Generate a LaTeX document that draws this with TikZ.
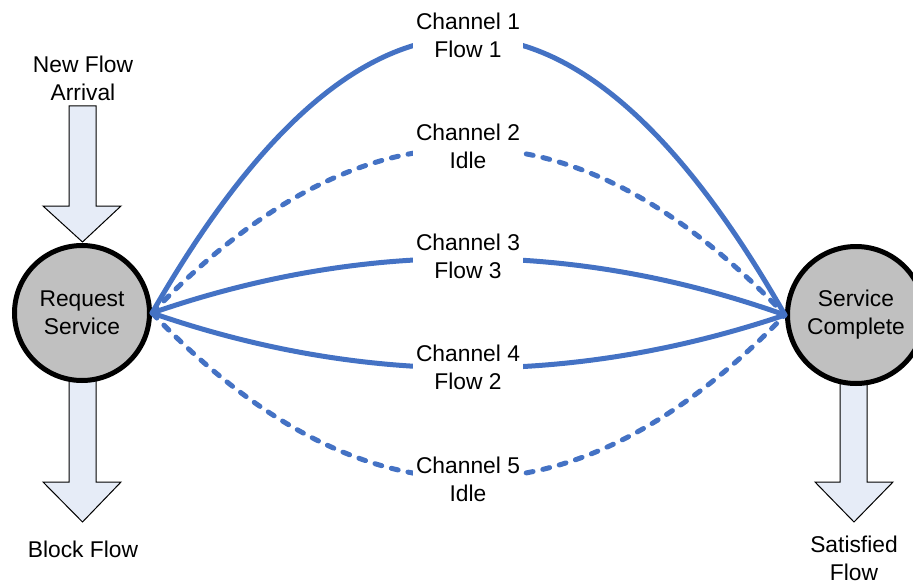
\documentclass[tikz,border=0pt]{standalone}
\usepackage{fontspec}
\setmainfont{Liberation Sans}
\definecolor{stategray}{RGB}{192,192,192}
\definecolor{arrowfill}{HTML}{E6ECF7}
\definecolor{chanblue}{HTML}{4472C4}
\begin{document}
\begin{tikzpicture}[x=1pt,y=-1pt,
  every node/.style={font=\fontsize{22.8}{28}\selectfont, align=center},
  state/.style={circle, draw=black, line width=5pt, fill=stategray, minimum size=#1, inner sep=0pt},
  blockarrow/.style={draw=black, line width=1pt, fill=arrowfill, line join=miter},
  chan/.style={draw=chanblue, line width=5pt},
  idle/.style={chan, dash pattern=on 7pt off 10pt, line cap=round},
  chanlabel/.style={fill=white, inner xsep=3pt, inner ysep=0pt}
]
\useasboundingbox (0,0) rectangle (913,583);
\clip (0,0) rectangle (913,583);

% block arrows
\draw[blockarrow] (69,106) -- (96,106) -- (96,206) -- (121,206) -- (82.5,242) -- (43,206) -- (69,206) -- cycle;
\draw[blockarrow] (69,360) -- (96,360) -- (96,482) -- (121,482) -- (82.5,522) -- (43,482) -- (69,482) -- cycle;
\draw[blockarrow] (840,360) -- (867,360) -- (867,482) -- (893,482) -- (854,522) -- (815,482) -- (840,482) -- cycle;

% states
\node[state=135pt] (L) at (82,313) {Request\\Service};
\node[state=137pt] (R) at (856,315) {Service\\Complete};

% texts
\node (arr) at (83,78) {New Flow\\Arrival};
\node (blk) at (83,549) {Block Flow};
\node (sat) at (854,558) {Satisfied\\Flow};

% channels
\draw[chan] (L.east) .. controls (363,-55) and (574,-55) .. (R.west);
\draw[idle] (L.east) .. controls (363,93) and (574,93) .. (R.west);
\draw[chan] (L.east) .. controls (363,240) and (574,240) .. (R.west);
\draw[chan] (L.east) .. controls (363,386) and (574,386) .. (R.west);
\draw[idle] (L.east) .. controls (363,533) and (574,533) .. (R.west);

\node[chanlabel] (c1) at (468,35) {Channel 1\\Flow 1};
\node[chanlabel] (c2) at (468,146) {Channel 2\\Idle};
\node[chanlabel] (c3) at (468,256.5) {Channel 3\\Flow 3};
\node[chanlabel] (c4) at (468,367.5) {Channel 4\\Flow 2};
\node[chanlabel] (c5) at (468,479.5) {Channel 5\\Idle};
\end{tikzpicture}
\end{document}
